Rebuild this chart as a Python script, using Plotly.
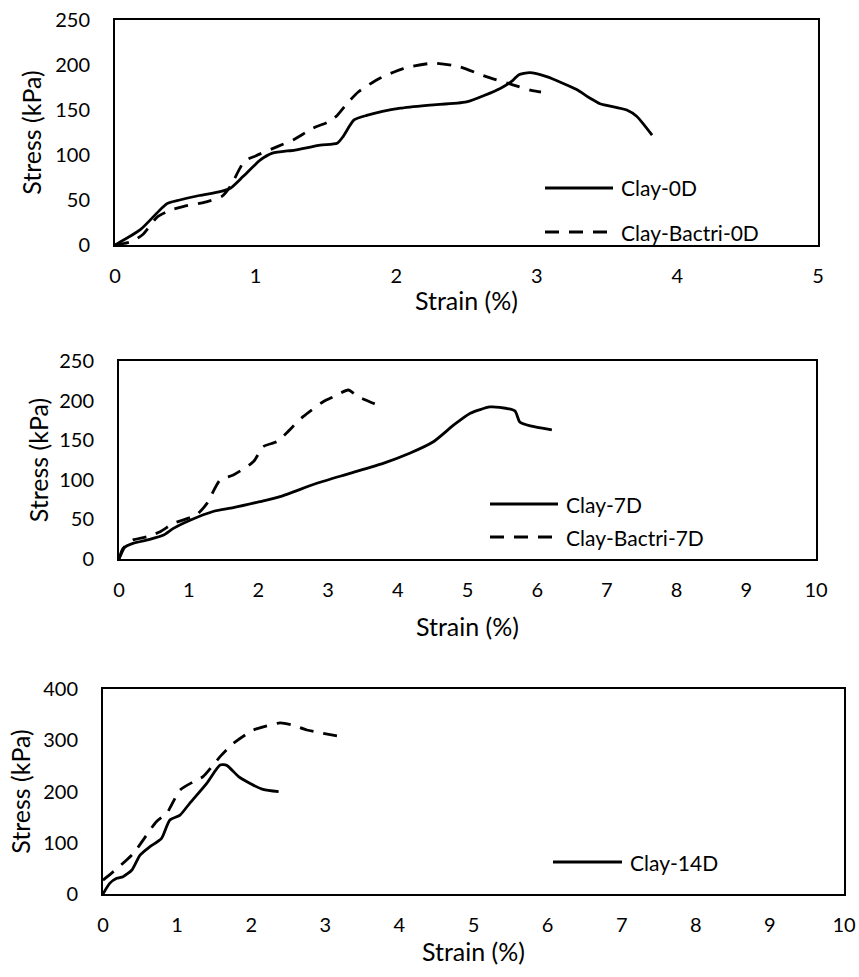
import plotly.graph_objects as go

W, H = 859, 977

# ---- 0-day specimens ----
strain_clay_0d = [0, 0.18, 0.37, 0.46, 0.60, 0.74, 0.82, 0.91, 1.03, 1.12, 1.28, 1.46, 1.58,
                  1.62, 1.70, 1.79, 2.03, 2.24, 2.50, 2.74, 2.83, 2.87, 2.95, 3.07, 3.28,
                  3.38, 3.45, 3.64, 3.71, 3.82]
stress_clay_0d = [0, 17, 46, 50, 55, 59, 63, 76, 94, 102, 105.5, 111, 113,
                  120, 139, 144, 152, 155.5, 159, 174, 183, 189, 191.5, 187, 173,
                  163, 157, 150, 143, 122]
strain_bactri_0d = [0, 0.12, 0.20, 0.30, 0.40, 0.49, 0.65, 0.76, 0.82, 0.92, 1.00, 1.15, 1.27,
                    1.41, 1.52, 1.58, 1.65, 1.73, 1.88, 2.05, 2.26, 2.45, 2.64, 2.83, 2.97, 3.03]
stress_bactri_0d = [0, 4, 12, 31, 39, 43, 48, 54, 65, 93, 99, 109, 117,
                    130, 137, 144, 157, 170, 185, 196, 202, 198, 187, 178, 171.5, 170]

# ---- 7-day specimens ----
strain_clay_7d = [0, 0.06, 0.2, 0.44, 0.64, 0.78, 1.02, 1.35, 1.64, 2.02, 2.31, 2.84, 3.31,
                  3.79, 4.17, 4.51, 4.80, 5.04, 5.32, 5.46, 5.68, 5.75, 5.90, 6.21]
stress_clay_7d = [0, 13.5, 19.8, 24.8, 30.3, 38.7, 49, 60, 64.8, 72.4, 78.7, 95.6, 108,
                  120.8, 133.5, 148, 169, 184, 192, 191.5, 187, 173, 168, 163]
strain_bactri_7d = [0, 0.1, 0.2, 0.4, 0.59, 0.78, 1.11, 1.26, 1.45, 1.64, 1.93, 2.07, 2.26,
                    2.40, 2.64, 2.93, 3.08, 3.29, 3.43, 3.65, 3.79]
stress_bactri_7d = [0, 18, 24, 28, 34.5, 45, 55.6, 70, 99.7, 106, 123, 142, 148,
                    158.7, 179.7, 198.6, 205, 213.4, 205, 196.6, 191.5]

# ---- 14-day specimens ----
strain_clay_14d = [0, 0.09, 0.185, 0.27, 0.39, 0.5, 0.63, 0.79, 0.90, 1.04, 1.17, 1.40, 1.58,
                   1.67, 1.83, 1.98, 2.16, 2.37]
stress_clay_14d = [0, 20.8, 30.6, 33.8, 46.8, 76, 92, 108.6, 144, 154, 177, 216, 251.7,
                   251, 229, 216, 204, 199.6]
strain_bactri_14d = [0, 0.14, 0.41, 0.72, 0.86, 1.04, 1.22, 1.35, 1.58, 1.76, 2.03, 2.21,
                     2.39, 2.55, 2.75, 2.93, 3.18]
stress_bactri_14d = [27, 43.6, 79.4, 141, 157.5, 203, 219, 229, 268, 294, 320, 328,
                     334, 330, 320, 314.8, 308]

x_ranges = [[0, 5], [0, 10], [0, 10]]
y_ranges = [[0, 250], [0, 250], [0, 400]]
y_dticks = [50, 50, 100]

FONT = "Lato"
TICK_FS = 20
TITLE_FS = 25
LEGEND_FS = 21
DASH = "14px,10px"
LW = 2.8

# panel frames in pixels: (left, right, top, bottom)
frames = [(115, 818, 20, 245), (119, 816, 361, 559), (103, 844, 689, 894)]
x_title_standoff = [6, 18, 6]
y_title_standoff = [6, 3, 5]


def px_x(p):
    return p / W


def px_y(p):
    return 1 - p / H


fig = go.Figure()

series = [
    (1, strain_clay_0d, stress_clay_0d, "solid", "Clay-0D"),
    (1, strain_bactri_0d, stress_bactri_0d, DASH, "Clay-Bactri-0D"),
    (2, strain_clay_7d, stress_clay_7d, "solid", "Clay-7D"),
    (2, strain_bactri_7d, stress_bactri_7d, DASH, "Clay-Bactri-7D"),
    (3, strain_clay_14d, stress_clay_14d, "solid", "Clay-14D"),
    (3, strain_bactri_14d, stress_bactri_14d, DASH, "Clay-Bactri-14D"),
]
for k, xs, ys, dash, name in series:
    suffix = "" if k == 1 else str(k)
    fig.add_trace(go.Scatter(
        x=xs, y=ys, mode="lines", name=name, showlegend=False,
        xaxis="x" + suffix, yaxis="y" + suffix,
        line=dict(color="black", width=LW, dash=dash, shape="spline", smoothing=0.6),
    ))

layout = dict(
    width=W, height=H, margin=dict(l=0, r=0, t=0, b=0, pad=0, autoexpand=False),
    paper_bgcolor="white", plot_bgcolor="white",
    font=dict(family=FONT, size=TICK_FS, color="black"),
    showlegend=False,
)
for i, (l, r, t, b) in enumerate(frames):
    suffix = "" if i == 0 else str(i + 1)
    layout["xaxis" + suffix] = dict(
        domain=[px_x(l), px_x(r)], range=x_ranges[i], dtick=1,
        anchor="y" + suffix, showgrid=False, zeroline=False, automargin=False,
        showline=True, mirror=True, linecolor="black", linewidth=2,
        ticks="", ticklabelstandoff=12, tickfont=dict(size=TICK_FS),
        title=dict(text="Strain (%)", standoff=x_title_standoff[i],
                   font=dict(size=TITLE_FS)),
    )
    layout["yaxis" + suffix] = dict(
        domain=[px_y(b), px_y(t)], range=y_ranges[i], dtick=y_dticks[i],
        anchor="x" + suffix, showgrid=False, zeroline=False, automargin=False,
        showline=True, mirror=True, linecolor="black", linewidth=2,
        ticks="", ticklabelstandoff=19, tickfont=dict(size=TICK_FS),
        title=dict(text="Stress (kPa)", standoff=y_title_standoff[i],
                   font=dict(size=TITLE_FS)),
    )
fig.update_layout(**layout)

# legend entries: (line x0, line x1, y, dash, label)
legend_items = [
    (545, 613, 188, "solid", "Clay-0D"),
    (545, 613, 232, DASH, "Clay-Bactri-0D"),
    (490, 558, 504, "solid", "Clay-7D"),
    (490, 558, 537, DASH, "Clay-Bactri-7D"),
    (553, 622, 862, "solid", "Clay-14D"),
]
for x0, x1, y, dash, label in legend_items:
    fig.add_shape(type="line", xref="paper", yref="paper",
                  x0=px_x(x0), x1=px_x(x1), y0=px_y(y), y1=px_y(y),
                  line=dict(color="black", width=LW, dash=dash))
    fig.add_annotation(xref="paper", yref="paper", x=px_x(x1 + 6), y=px_y(y),
                       text=label, showarrow=False, xanchor="left", yanchor="middle",
                       font=dict(family=FONT, size=LEGEND_FS, color="black"))

fig.write_html("out.html")
